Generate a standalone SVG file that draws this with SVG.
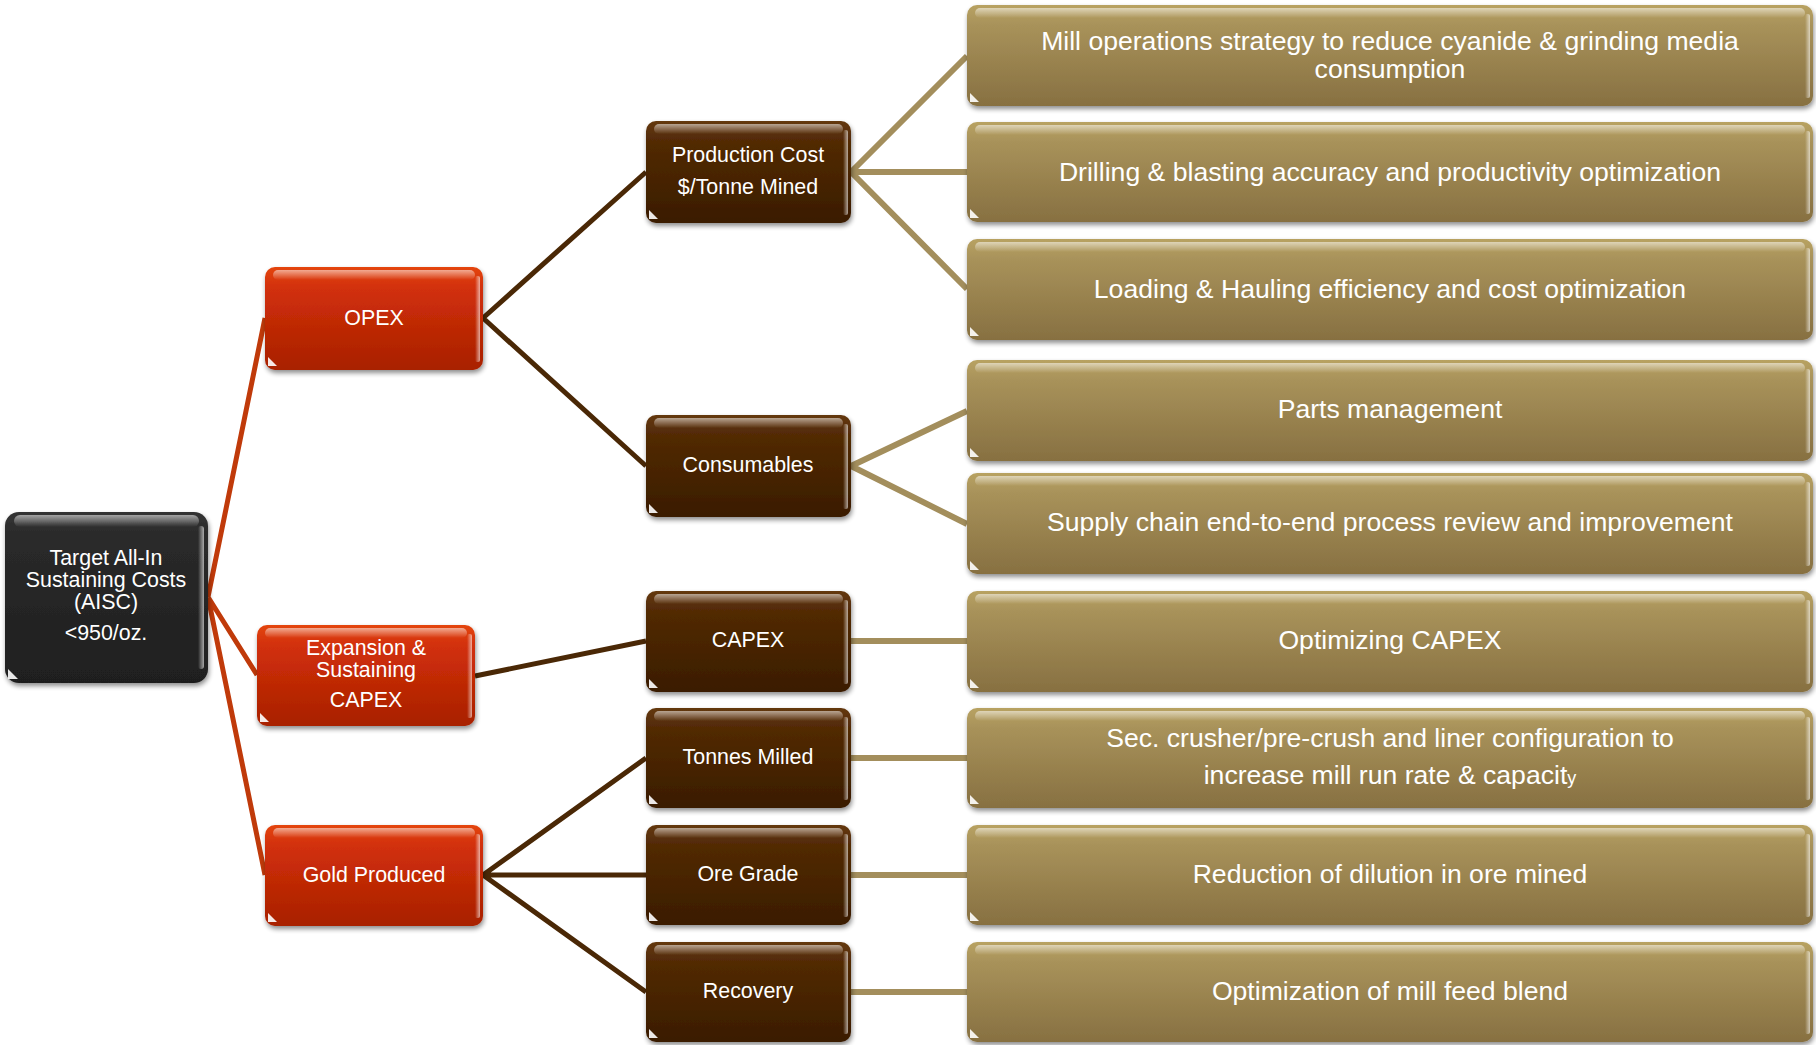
<svg xmlns="http://www.w3.org/2000/svg" width="1816" height="1045" viewBox="0 0 1816 1045">
<defs>
<linearGradient id="gBlack" x1="0" y1="0" x2="0" y2="1"><stop offset="0" stop-color="#333"/><stop offset="0.15" stop-color="#2a2a2a"/><stop offset="1" stop-color="#1f1f1f"/></linearGradient>
<linearGradient id="gRed" x1="0" y1="0" x2="0" y2="1"><stop offset="0" stop-color="#e4450f"/><stop offset="0.2" stop-color="#d2300a"/><stop offset="1" stop-color="#a82000"/></linearGradient>
<linearGradient id="gBrown" x1="0" y1="0" x2="0" y2="1"><stop offset="0" stop-color="#64380e"/><stop offset="0.2" stop-color="#522a06"/><stop offset="1" stop-color="#3a1c02"/></linearGradient>
<linearGradient id="gGold" x1="0" y1="0" x2="0" y2="1"><stop offset="0" stop-color="#b8a262"/><stop offset="0.2" stop-color="#a8925a"/><stop offset="1" stop-color="#877041"/></linearGradient>
<linearGradient id="hlTop" x1="0" y1="0" x2="0" y2="1"><stop offset="0" stop-color="#fff" stop-opacity="0.55"/><stop offset="1" stop-color="#fff" stop-opacity="0"/></linearGradient>
<linearGradient id="hlRight" x1="0" y1="0" x2="1" y2="0"><stop offset="0" stop-color="#fff" stop-opacity="0"/><stop offset="1" stop-color="#fff" stop-opacity="0.6"/></linearGradient>
<filter id="sh" x="-5%" y="-10%" width="112%" height="125%"><feGaussianBlur in="SourceAlpha" stdDeviation="2.5"/><feOffset dx="1" dy="3" result="b"/><feComponentTransfer><feFuncA type="linear" slope="0.45"/></feComponentTransfer><feMerge><feMergeNode/><feMergeNode in="SourceGraphic"/></feMerge></filter>
</defs>
<style>
text{font-family:"Liberation Sans",Arial,sans-serif;fill:#fff;text-anchor:middle}
.t21{font-size:21.4px}
.t26{font-size:26.6px}
.base{filter:url(#sh)}
.top{fill:url(#hlTop)}
.rgt{fill:url(#hlRight)}
.tri{fill:#fff;opacity:0.9}
.cr{stroke:#c03a0a;stroke-width:5;fill:none}
.cb{stroke:#4a2806;stroke-width:5;fill:none}
.cg{stroke:#a38e5c;stroke-width:6;fill:none}
</style>
<rect width="1816" height="1045" fill="#fff"/>
<g id="connectors">
<path class="cr" d="M208 597 L265 318 M208 597 L257 675 M208 597 L265 875"/>
<path class="cb" d="M483 318 L646 172 M483 318 L646 466 M475 676 L646 641 M483 875 L646 758 M483 875 L646 875 M483 875 L646 992"/>
<path class="cg" d="M851 172 L967 56 M851 172 L967 172 M851 172 L967 289 M851 466 L967 411 M851 466 L967 524 M851 641 L967 641 M851 758 L967 758 M851 875 L967 875 M851 992 L967 992"/>
</g>
<g id="root">
<rect class="base" x="5" y="512" width="203" height="171" rx="14" fill="url(#gBlack)"/>
<rect class="top" x="14" y="515" width="185" height="12" rx="6"/>
<rect class="rgt" x="198" y="526" width="6" height="143" rx="3"/>
<path class="tri" d="M8 679 L8 669 L18 679 Z"/>
<text class="t21" x="106" y="565">Target All-In</text>
<text class="t21" x="106" y="587">Sustaining Costs</text>
<text class="t21" x="106" y="609">(AISC)</text>
<text class="t21" x="106" y="640">&lt;950/oz.</text>
</g>
<g id="opex">
<rect class="base" x="265" y="267" width="218" height="103" rx="10" fill="url(#gRed)"/>
<rect class="top" x="273" y="270" width="202" height="10" rx="5"/>
<rect class="rgt" x="475" y="276" width="5" height="86" rx="2"/>
<path class="tri" d="M268 366 L268 357 L277 366 Z"/>
<text class="t21" x="374" y="325">OPEX</text>
</g>
<g id="expansion">
<rect class="base" x="257" y="625" width="218" height="101" rx="10" fill="url(#gRed)"/>
<rect class="top" x="265" y="628" width="202" height="10" rx="5"/>
<rect class="rgt" x="467" y="634" width="5" height="84" rx="2"/>
<path class="tri" d="M260 722 L260 713 L269 722 Z"/>
<text class="t21" x="366" y="655">Expansion &amp;</text>
<text class="t21" x="366" y="677">Sustaining</text>
<text class="t21" x="366" y="707">CAPEX</text>
</g>
<g id="gold-produced">
<rect class="base" x="265" y="825" width="218" height="101" rx="10" fill="url(#gRed)"/>
<rect class="top" x="273" y="828" width="202" height="10" rx="5"/>
<rect class="rgt" x="475" y="834" width="5" height="84" rx="2"/>
<path class="tri" d="M268 922 L268 913 L277 922 Z"/>
<text class="t21" x="374" y="882">Gold Produced</text>
</g>
<g id="production-cost">
<rect class="base" x="646" y="121" width="205" height="102" rx="10" fill="url(#gBrown)"/>
<rect class="top" x="654" y="124" width="189" height="10" rx="5"/>
<rect class="rgt" x="843" y="130" width="5" height="85" rx="2"/>
<path class="tri" d="M649 219 L649 210 L658 219 Z"/>
<text class="t21" x="748" y="162">Production Cost</text>
<text class="t21" x="748" y="194">$/Tonne Mined</text>
</g>
<g id="consumables">
<rect class="base" x="646" y="415" width="205" height="102" rx="10" fill="url(#gBrown)"/>
<rect class="top" x="654" y="418" width="189" height="10" rx="5"/>
<rect class="rgt" x="843" y="424" width="5" height="85" rx="2"/>
<path class="tri" d="M649 513 L649 504 L658 513 Z"/>
<text class="t21" x="748" y="472">Consumables</text>
</g>
<g id="capex">
<rect class="base" x="646" y="591" width="205" height="101" rx="10" fill="url(#gBrown)"/>
<rect class="top" x="654" y="594" width="189" height="10" rx="5"/>
<rect class="rgt" x="843" y="600" width="5" height="84" rx="2"/>
<path class="tri" d="M649 688 L649 679 L658 688 Z"/>
<text class="t21" x="748" y="647">CAPEX</text>
</g>
<g id="tonnes-milled">
<rect class="base" x="646" y="708" width="205" height="100" rx="10" fill="url(#gBrown)"/>
<rect class="top" x="654" y="711" width="189" height="10" rx="5"/>
<rect class="rgt" x="843" y="717" width="5" height="83" rx="2"/>
<path class="tri" d="M649 804 L649 795 L658 804 Z"/>
<text class="t21" x="748" y="764">Tonnes Milled</text>
</g>
<g id="ore-grade">
<rect class="base" x="646" y="825" width="205" height="100" rx="10" fill="url(#gBrown)"/>
<rect class="top" x="654" y="828" width="189" height="10" rx="5"/>
<rect class="rgt" x="843" y="834" width="5" height="83" rx="2"/>
<path class="tri" d="M649 921 L649 912 L658 921 Z"/>
<text class="t21" x="748" y="881">Ore Grade</text>
</g>
<g id="recovery">
<rect class="base" x="646" y="942" width="205" height="100" rx="10" fill="url(#gBrown)"/>
<rect class="top" x="654" y="945" width="189" height="10" rx="5"/>
<rect class="rgt" x="843" y="951" width="5" height="83" rx="2"/>
<path class="tri" d="M649 1038 L649 1029 L658 1038 Z"/>
<text class="t21" x="748" y="998">Recovery</text>
</g>
<g id="mill-operations">
<rect class="base" x="967" y="5" width="846" height="101" rx="10" fill="url(#gGold)"/>
<rect class="top" x="975" y="8" width="830" height="10" rx="5"/>
<rect class="rgt" x="1805" y="14" width="5" height="84" rx="2"/>
<path class="tri" d="M970 102 L970 93 L979 102 Z"/>
<text class="t26" x="1390" y="50">Mill operations strategy to reduce cyanide &amp; grinding media</text>
<text class="t26" x="1390" y="78">consumption</text>
</g>
<g id="drilling">
<rect class="base" x="967" y="122" width="846" height="100" rx="10" fill="url(#gGold)"/>
<rect class="top" x="975" y="125" width="830" height="10" rx="5"/>
<rect class="rgt" x="1805" y="131" width="5" height="83" rx="2"/>
<path class="tri" d="M970 218 L970 209 L979 218 Z"/>
<text class="t26" x="1390" y="181">Drilling &amp; blasting accuracy and productivity optimization</text>
</g>
<g id="loading">
<rect class="base" x="967" y="239" width="846" height="101" rx="10" fill="url(#gGold)"/>
<rect class="top" x="975" y="242" width="830" height="10" rx="5"/>
<rect class="rgt" x="1805" y="248" width="5" height="84" rx="2"/>
<path class="tri" d="M970 336 L970 327 L979 336 Z"/>
<text class="t26" x="1390" y="298">Loading &amp; Hauling efficiency and cost optimization</text>
</g>
<g id="parts">
<rect class="base" x="967" y="360" width="846" height="101" rx="10" fill="url(#gGold)"/>
<rect class="top" x="975" y="363" width="830" height="10" rx="5"/>
<rect class="rgt" x="1805" y="369" width="5" height="84" rx="2"/>
<path class="tri" d="M970 457 L970 448 L979 457 Z"/>
<text class="t26" x="1390" y="418">Parts management</text>
</g>
<g id="supply-chain">
<rect class="base" x="967" y="473" width="846" height="101" rx="10" fill="url(#gGold)"/>
<rect class="top" x="975" y="476" width="830" height="10" rx="5"/>
<rect class="rgt" x="1805" y="482" width="5" height="84" rx="2"/>
<path class="tri" d="M970 570 L970 561 L979 570 Z"/>
<text class="t26" x="1390" y="531">Supply chain end-to-end process review and improvement</text>
</g>
<g id="optimizing-capex">
<rect class="base" x="967" y="591" width="846" height="101" rx="10" fill="url(#gGold)"/>
<rect class="top" x="975" y="594" width="830" height="10" rx="5"/>
<rect class="rgt" x="1805" y="600" width="5" height="84" rx="2"/>
<path class="tri" d="M970 688 L970 679 L979 688 Z"/>
<text class="t26" x="1390" y="649">Optimizing CAPEX</text>
</g>
<g id="crusher">
<rect class="base" x="967" y="708" width="846" height="100" rx="10" fill="url(#gGold)"/>
<rect class="top" x="975" y="711" width="830" height="10" rx="5"/>
<rect class="rgt" x="1805" y="717" width="5" height="83" rx="2"/>
<path class="tri" d="M970 804 L970 795 L979 804 Z"/>
<text class="t26" x="1390" y="747">Sec. crusher/pre-crush and liner configuration to</text>
<text class="t26" x="1390" y="784">increase mill run rate &amp; capacit<tspan style="font-size:18px">y</tspan></text>
</g>
<g id="dilution">
<rect class="base" x="967" y="825" width="846" height="100" rx="10" fill="url(#gGold)"/>
<rect class="top" x="975" y="828" width="830" height="10" rx="5"/>
<rect class="rgt" x="1805" y="834" width="5" height="83" rx="2"/>
<path class="tri" d="M970 921 L970 912 L979 921 Z"/>
<text class="t26" x="1390" y="883">Reduction of dilution in ore mined</text>
</g>
<g id="mill-feed">
<rect class="base" x="967" y="942" width="846" height="100" rx="10" fill="url(#gGold)"/>
<rect class="top" x="975" y="945" width="830" height="10" rx="5"/>
<rect class="rgt" x="1805" y="951" width="5" height="83" rx="2"/>
<path class="tri" d="M970 1038 L970 1029 L979 1038 Z"/>
<text class="t26" x="1390" y="1000">Optimization of mill feed blend</text>
</g>
</svg>
